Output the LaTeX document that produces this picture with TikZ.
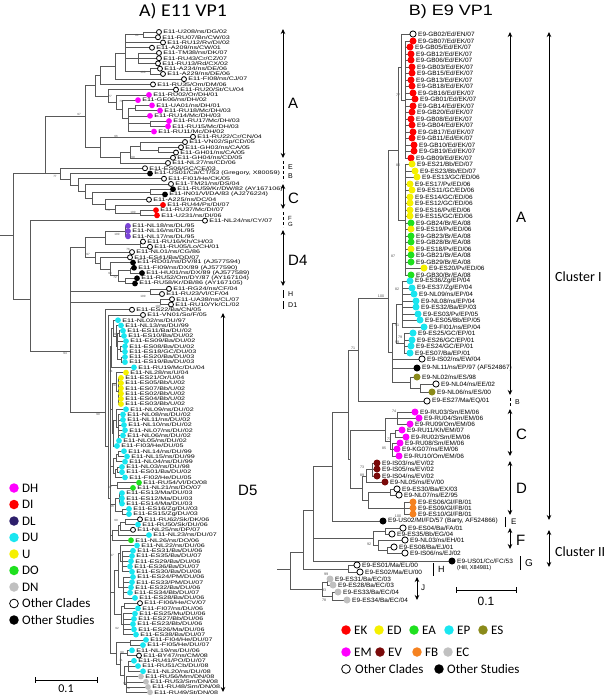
\documentclass[tikz,border=0pt]{standalone}
\usepackage{fontspec}
\setmainfont{Liberation Sans}
\newfontfamily\calfont{Carlito}
\usetikzlibrary{arrows.meta}

\definecolor{cDH}{HTML}{FF00FF}
\definecolor{cDI}{HTML}{FF0000}
\definecolor{cDL}{HTML}{7B45D6}
\definecolor{cDLkey}{HTML}{2D1F6B}
\definecolor{cDU}{HTML}{1AE6F0}
\definecolor{cU}{HTML}{F5F000}
\definecolor{cDO}{HTML}{1FE01F}
\definecolor{cDN}{HTML}{C0C0C0}
\definecolor{cES}{HTML}{8A8A1A}
\definecolor{cEV}{HTML}{7A0A0A}
\definecolor{cFB}{HTML}{F58220}

% row height of the E11 tree
\newcommand{\ly}[1]{32+5.24*(#1-1)}
\def\dsz{5.8pt}

% E11 tips: row/parent x/tip x/class/label
\def\leavesL{
1/143/159/oc/{E11-U208/ns/DG/02},
2/143/158/oc/{E11-RU07/Bn/CW/03},
3/125/163/oc/{E11-RU12/Rv/DI/02},
4/125/152/oc/{E11-A209/ns/CW/01},
5/138/159/oc/{E11-TM38/ns/DK/07},
6/138/159/oc/{E11-RU43/Cr/CZ/07},
7/138/158/oc/{E11-RU13/Rd/CX/02},
8/150/160/oc/{E11-A234/ns/DE/06},
9/150/163/oc/{E11-A229/ns/DE/06},
10/115/184/oc/{E11-FI08/ns/CJ/07},
11/100/153/oc/{E11-RU35/Om/DM/06},
12/108/176/oc/{E11-RU20/St/CU/04},
13/116/149/DH/{E11-RU02/Or/DH/01},
14/122/138/DH/{E11-GE06/ns/DH/02},
15/135/152/DH/{E11-UA01/ns/DH/01},
16/135/160/DH/{E11-RU18/Mc/DH/03},
17/128/150/DH/{E11-RU14/Mc/DH/03},
18/150/169/DH/{E11-RU17/Mc/DH/03},
19/150/168/DH/{E11-RU15/Mc/DH/03},
20/128/154/DH/{E11-RU11/Mc/DH/02},
21/100/193/oc/{E11-RU22/Cr/CN/04},
22/140/185/oc/{E11-VN02/Sp/CD/05},
23/158/181/oc/{E11-GH03/ns/CA/05},
24/158/176/oc/{E11-GH01/ns/CA/05},
25/130/173/oc/{E11-GH04/ns/CD/05},
26/120/168/oc/{E11-NL27/ns/CD/06},
27/60/145/oc/{E11-ES06/GC/CE/03},
28/70/150/os/{E11-US01/Ca/CT/53 (Gregory, X80059)},
29/78/164/oc/{E11-FI01/He/CK/05},
30/85/171/oc/{E11-TM21/ns/DS/04},
31/150/173/os/{E11-RU59/Kr/DW/82 (AY167106)},
32/150/165/os/{E11-IN01/Vl/DA/83 (AJ276224)},
33/105/149/oc/{E11-A225/ns/DC/04},
34/115/163/DI/{E11-RU44/Ps/DI/07},
35/140/156/DI/{E11-RU37/Mc/DI/07},
36/140/157/DI/{E11-U231/ns/DI/06},
37/30/205/oc/{E11-NL24/ns/CY/07},
38/125/128/DL/{E11-NL18/ns/DL/95},
39/125/128/DL/{E11-NL16/ns/DL/95},
40/125/128/DL/{E11-NL17/ns/DL/95},
41/140/143/oc/{E11-RU16/Kh/CH/03},
42/140/150/oc/{E11-RU05/Lo/CH/01},
43/95/132/oc/{E11-NL01/ns/CG/86},
44/100/130/oc/{E11-ES41/Ba/DD/07},
45/110/133/os/{E11-RD01/ns/DV/81 (AJ577594)},
46/130/134/os/{E11-FI09/ns/DX/89 (AJ577590)},
47/130/142/os/{E11-HU01/ns/DX/89 (AJ577589)},
48/125/137/os/{E11-RU52/Om/DY/87 (AY167104)},
49/125/135/os/{E11-RU58/Kr/DB/86 (AY167105)},
50/150/169/oc/{E11-RG24/ns/CF/04},
51/150/162/oc/{E11-RU23/Vl/CF/04},
52/160/172/oc/{E11-UA38/ns/CL/07},
53/160/171/oc/{E11-RU10/Yk/CL/02},
54/105/132/oc/{E11-ES22/Ba/CN/05},
55/108/143/oc/{E11-VN01/So/F/05},
56/113/118/DU/{E11-NL02/ns/DU/97},
57/116/121/DU/{E11-NL13/ns/DU/99},
58/119/123/DU/{E11-ES11/Ba/DU/02},
59/119/124/DU/{E11-ES10/Ba/DU/02},
60/117/126/DU/{E11-ES09/Ba/DU/02},
61/120/125/DU/{E11-ES08/Ba/DU/02},
62/120/125/DU/{E11-ES18/GC/DU/03},
63/121/125/DU/{E11-ES20/Ba/DU/03},
64/121/125/DU/{E11-ES19/Ba/DU/03},
65/111/134/DU/{E11-RU19/Mc/DU/04},
66/116/126/U/{E11-NL28/ns/U/04},
67/118/121/U/{E11-ES21/Or/U/04},
68/118/121/U/{E11-ES05/Bb/U/02},
69/118/121/U/{E11-ES07/Bb/U/02},
70/118/121/U/{E11-ES02/Bb/U/02},
71/118/121/U/{E11-ES04/Bb/U/02},
72/118/121/U/{E11-ES03/Bb/U/02},
73/116/126/DU/{E11-NL09/ns/DU/02},
74/118/123/DU/{E11-NL08/ns/DU/02},
75/118/123/DU/{E11-NL11/ns/DU/02},
76/118/124/DU/{E11-NL10/ns/DU/02},
77/118/125/DU/{E11-NL07/ns/DU/02},
78/118/123/DU/{E11-NL06/ns/DU/02},
79/118/119/DU/{E11-NL05/ns/DU/02},
80/113/117/DU/{E11-FI03/He/DU/05},
81/118/124/DU/{E11-NL14/ns/DU/99},
82/118/127/DU/{E11-NL15/ns/DU/99},
83/116/125/DU/{E11-NL04/ns/DU/99},
84/117/122/DU/{E11-NL03/ns/DU/98},
85/117/122/DU/{E11-ES01/Ba/DU/02},
86/115/125/DU/{E11-FI02/He/DU/05},
87/117/139/DO/{E11-RU54/Vl/DO/08},
88/117/133/DO/{E11-NL21/ns/DO/07},
89/119/122/DU/{E11-ES13/Ma/DU/03},
90/119/122/DU/{E11-ES12/Ma/DU/03},
91/119/122/DU/{E11-ES14/Ma/DU/03},
92/122/129/DU/{E11-ES16/Zg/DU/03},
93/122/129/DU/{E11-ES15/Zg/DU/03},
94/125/140/oc/{E11-RU62/Sk/DK/06},
95/125/138/DU/{E11-RU50/Sk/DU/06},
96/120/133/oc/{E11-NL25/ns/DP/07},
97/118/149/DU/{E11-NL23/ns/DU/07},
98/112/131/DO/{E11-NL26/ns/DO/06},
99/120/137/DU/{E11-NL22/ns/DU/06},
100/122/133/DU/{E11-ES31/Ba/DU/06},
101/122/132/DU/{E11-ES35/Ba/DU/07},
102/122/131/DU/{E11-ES29/Ba/DU/06},
103/122/130/DU/{E11-ES36/Ba/DU/07},
104/122/132/DU/{E11-ES30/Ba/DU/06},
105/123/133/DU/{E11-ES24/PM/DU/06},
106/123/132/DU/{E11-ES33/PM/DU/07},
107/123/131/DU/{E11-ES32/Ba/DU/06},
108/123/130/DU/{E11-ES34/Bb/DU/07},
109/123/135/DU/{E11-ES28/Ba/DU/06},
110/124/140/oc/{E11-FI06/He/CV/07},
111/124/138/DU/{E11-FI07/ns/DU/06},
112/123/135/DU/{E11-ES25/Mu/DU/06},
113/123/134/DU/{E11-ES27/Bb/DU/06},
114/123/133/DU/{E11-ES23/Bb/DU/06},
115/123/134/DU/{E11-ES26/Ma/DU/06},
116/123/136/DU/{E11-ES38/Ba/DU/07},
117/130/146/DU/{E11-FI04/He/DU/07},
118/130/143/DU/{E11-FI05/He/DU/07},
119/127/132/DU/{E11-NL19/ns/DU/06},
120/127/139/oc/{E11-BY47/ns/CM/08},
121/128/134/DU/{E11-RU41/PO/DU/07},
122/128/138/DU/{E11-RU51/Cb/DU/08},
123/128/143/DU/{E11-NL20/ns/DU/08},
124/126/141/DN/{E11-RU56/Mm/DN/08},
125/126/146/DN/{E11-RU53/Sm/DN/08},
126/126/148/DN/{E11-RU48/Sm/DN/08},
127/126/150/DN/{E11-RU49/St/DN/08}}

% E9 tips: y/parent x/tip x/class/label
\def\leavesR{
34/401/413/oc/{E9-GB02/Ed/EN/07},
41/405/413/EK/{E9-GB07/Ed/EK/07},
47/405/410/EK/{E9-GB05/Ed/EK/07},
54/405/411/EK/{E9-GB12/Ed/EK/07},
60/405/411/EK/{E9-GB06/Ed/EK/07},
67/405/412/EK/{E9-GB03/Ed/EK/07},
73/405/412/EK/{E9-GB15/Ed/EK/07},
80/405/411/EK/{E9-GB13/Ed/EK/07},
86/405/412/EK/{E9-GB18/Ed/EK/07},
93/405/413/EK/{E9-GB16/Ed/EK/07},
99/405/415/EK/{E9-GB01/Ed/EK/07},
106/405/413/EK/{E9-GB14/Ed/EK/07},
112/405/412/EK/{E9-GB20/Ed/EK/07},
119/405/411/EK/{E9-GB08/Ed/EK/07},
125/405/412/EK/{E9-GB04/Ed/EK/07},
132/405/413/EK/{E9-GB17/Ed/EK/07},
138/405/412/EK/{E9-GB11/Ed/EK/07},
145/405/414/EK/{E9-GB10/Ed/EK/07},
151/405/414/EK/{E9-GB19/Ed/EK/07},
158/405/411/EK/{E9-GB09/Ed/EK/07},
164/405/412/ED/{E9-ES21/Bb/ED/07},
171/405/415/ED/{E9-ES23/Bb/ED/07},
177/405/417/ED/{E9-ES13/GC/ED/06},
184/405/410/ED/{E9-ES17/Pv/ED/06},
190/405/412/ED/{E9-ES11/GC/ED/06},
197/405/410/ED/{E9-ES14/GC/ED/06},
203/405/410/ED/{E9-ES12/GC/ED/06},
210/405/410/ED/{E9-ES16/Pv/ED/06},
216/405/410/ED/{E9-ES15/GC/ED/06},
223/405/411/EA/{E9-GB24/Br/EA/08},
229/405/411/ED/{E9-ES19/Pv/ED/06},
236/405/411/EA/{E9-GB23/Br/EA/08},
242/405/411/EA/{E9-GB28/Br/EA/08},
249/405/411/ED/{E9-ES18/Pv/ED/06},
255/405/411/EA/{E9-GB21/Br/EA/08},
262/405/411/EA/{E9-GB29/Br/EA/08},
268/405/424/ED/{E9-ES20/Pv/ED/06},
275/405/411/EA/{E9-GB30/Br/EA/08},
281/402/410/EP/{E9-ES36/Zg/EP/04},
288/402/412/EP/{E9-ES37/Zg/EP/04},
294/402/414/EP/{E9-NL09/ns/EP/04},
301/402/416/EP/{E9-NL08/ns/EP/04},
307/402/416/EP/{E9-ES32/Ba/EP/03},
314/402/418/EP/{E9-ES03/Pv/EP/05},
320/402/420/EP/{E9-ES05/Bb/EP/05},
327/402/424/EP/{E9-FI01/ns/EP/04},
333/404/413/EP/{E9-ES25/GC/EP/01},
340/404/412/EP/{E9-ES26/GC/EP/01},
346/404/411/EP/{E9-ES24/GC/EP/01},
353/404/410/EP/{E9-ES07/Ba/EP/01},
359/392/422/oc/{E9-IS02/ns/EW/04},
368/392/417/os/{E9-NL11/ns/EP/97 (AF524867)},
377/410/417/ES/{E9-NL02/ns/ES/98},
384/420/436/oc/{E9-NL04/ns/EE/02},
392/420/432/ES/{E9-NL06/ns/ES/00},
401/358/427/oc/{E9-ES27/Ma/EQ/01},
412/397/415/EM/{E9-RU03/Sm/EM/06},
418/397/419/EM/{E9-RU04/Sm/EM/06},
424/397/410/EM/{E9-RU09/Om/EM/06},
430/395/402/EM/{E9-RU11/Kh/EM/07},
437/395/406/EM/{E9-RU02/Sm/EM/06},
443/392/400/EM/{E9-RU08/Sm/EM/06},
449/392/397/EM/{E9-KG07/ns/EM/06},
456/392/399/EM/{E9-RU10/Om/EM/06},
463/372/377/EV/{E9-IS03/ns/EV/02},
469/372/377/EV/{E9-IS05/ns/EV/02},
476/372/377/EV/{E9-IS04/ns/EV/02},
482/366/385/EV/{E9-NL05/ns/EV/00},
489/390/397/oc/{E9-ES30/Ba/EX/03},
495/390/399/oc/{E9-NL07/ns/EZ/95},
502/404/413/FB/{E9-ES06/Gl/FB/01},
508/404/413/FB/{E9-ES09/Gl/FB/01},
514/404/413/FB/{E9-ES10/Gl/FB/01},
521/332/383/os/{E9-US02/MI/FD/57 (Barty, AF524866)},
528/385/403/oc/{E9-ES04/Ba/FA/01},
534/385/392/oc/{E9-ES35/Bb/EG/04},
540/378/405/oc/{E9-NL03/ns/EH/01},
547/387/394/oc/{E9-ES08/Ba/EJ/01},
553/387/405/oc/{E9-IS06/ns/EJ/02},
561/313/452/os/{E9-US01/Cc/FC/53},
565/348/357/oc/{E9-ES01/Ma/EL/00},
572/348/360/oc/{E9-ES02/Ma/EU/00},
579/327/330/EC/{E9-ES31/Ba/EC/03},
585/327/333/EC/{E9-ES28/Ba/EC/03},
592/332/338/EC/{E9-ES33/Ba/EC/04},
600/332/347/EC/{E9-ES34/Ba/EC/04}}

\begin{document}
\begin{tikzpicture}[x=1pt,y=-1pt,
  br/.style={line width=0.5pt,black!65},
  dt/.style={circle,inner sep=0pt,minimum size=\dsz},
  DH/.style={dt,fill=cDH}, DI/.style={dt,fill=cDI}, DL/.style={dt,fill=cDL},
  DU/.style={dt,fill=cDU}, U/.style={dt,fill=cU}, DO/.style={dt,fill=cDO},
  DN/.style={dt,fill=cDN},
  EK/.style={dt,fill=cDI}, ED/.style={dt,fill=cU}, EA/.style={dt,fill=cDO},
  EP/.style={dt,fill=cDU}, ES/.style={dt,fill=cES}, EM/.style={dt,fill=cDH},
  EV/.style={dt,fill=cEV}, FB/.style={dt,fill=cFB}, EC/.style={dt,fill=cDN},
  oc/.style={dt,draw=black,fill=white,line width=0.8pt,minimum size=\dsz-0.8pt},
  os/.style={dt,fill=black},
  lblL/.style={anchor=west,inner sep=0pt,font=\fontsize{5.1}{5.1}\selectfont},
  lblR/.style={anchor=west,inner sep=0pt,font=\fontsize{6.2}{6.2}\selectfont},
  bs/.style={inner sep=0pt,text=black!70,font=\fontsize{3}{3}\selectfont},
  key/.style={circle,inner sep=0pt,minimum size=9.5pt},
  keytxt/.style={anchor=west,inner sep=0pt,font=\calfont\fontsize{13}{13}\selectfont},
  cl/.style={line width=0.8pt,{Stealth[length=5pt,width=4.5pt]}-{Stealth[length=5pt,width=4.5pt]}},
  dsh/.style={line width=0.8pt,dash pattern=on 3pt off 2pt},
  bigl/.style={anchor=west,inner sep=0pt,font=\fontsize{15}{15}\selectfont},
  smll/.style={anchor=west,inner sep=0pt,font=\fontsize{7}{7}\selectfont}]
\useasboundingbox (0,0) rectangle (608,697);

% titles
\node[anchor=base,inner sep=0pt,font=\calfont\fontsize{18}{18}\selectfont] (tA) at (183,16) {\scalebox{1.1}[1]{A) E11 VP1}};
\node[anchor=base,inner sep=0pt,font=\fontsize{15}{15}\selectfont] (tB) at (451,15) {\scalebox{1.2}[1]{B) E9 VP1}};

%%% A) E11 tree
\foreach \x/\a/\b/\p/\m in {143/1/2/125/1.5, 138/5/7/125/6, 150/8/9/125/8.5,
  125/1.5/8.5/115/5, 115/5/10/100/7.5, 100/7.5/11/95/9.25,
  135/15/16/128/15.5, 150/18/19/128/18.5, 128/15.5/20/122/17.5,
  122/14/17.5/116/15.75, 116/13/15.75/108/14.4, 108/12/14.4/95/13.2,
  95/9.25/13.2/85/11.2, 158/23/24/140/23.5, 140/22/23.5/130/22.75,
  130/22.75/25/120/23.9, 120/23.9/26/100/24.9, 100/21/24.9/85/23,
  85/11.2/23/45/17.1, 140/35/36/115/35.5, 115/34/35.5/105/34.75,
  150/31/32/92/31.5, 105/33/34.75/92/33.9, 92/31.5/33.9/85/32.7,
  85/30/32.7/78/31.35, 78/29/31.35/70/30.2, 70/28/30.2/60/29.1,
  60/27/29.1/45/28, 45/17.1/28/13/28,
  125/38/40/105/39, 140/41/42/105/41.5, 105/39/41.5/85/40.25,
  130/46/47/118/46.5, 125/48/49/118/48.5, 118/46.5/48.5/110/47.5,
  110/45/47.5/100/46.25, 100/44/46.25/95/45.1, 95/43/45.1/85/44,
  85/40.25/44/70/42.1, 150/50/51/70/50.5, 160/52/53/70/52.5,
  70/42.1/73.5/30/62, 30/37/62/13/52, 13/28/52/0/39.7,
  119/58/59/117/58.5, 120/61/62/117/61.5, 121/63/64/117/63.5,
  117/58.5/63.5/116/61, 116/57/61/113/59, 113/56/59/111/57.5,
  111/57.5/65/110/61, 118/67/72/116/69.5, 116/66/69.5/112/68,
  118/74/79/116/76.5, 116/73/76.5/113/75, 113/75/80/112/77.5,
  112/68/77.5/110/73, 118/81/82/116/81.5, 116/81.5/83/113/82.3,
  117/84/85/115/84.5, 115/84.5/86/113/85.3, 113/82.3/85.3/110/83.8,
  117/87/88/110/87.5, 119/89/91/115/90, 122/92/93/115/92.5,
  115/90/92.5/110/91.2, 125/94/95/120/94.5, 120/94.5/96/118/95.2,
  118/95.2/97/112/96, 112/96/98/110/97, 122/100/104/120/102,
  120/99/102/118/100.5, 123/105/109/118/107, 118/100.5/107/114/103.7,
  124/110/111/121/110.5, 123/112/116/121/114, 121/110.5/114/114/112.2,
  114/103.7/112.2/110/108, 130/117/118/116/117.5, 127/119/120/120/119.5,
  128/121/123/124/122, 126/124/127/124/125.5, 124/122/125.5/120/123.7,
  120/119.5/123.7/116/121.6, 116/117.5/121.6/110/119.5,
  110/61/119.5/108/90, 108/55/90/105/80, 105/54/80/70/73.5}
  \draw[br] (\x,{\ly{\a}}) -- (\x,{\ly{\b}}) (\p,{\ly{\m}}) -- (\x,{\ly{\m}});
\foreach \i/\p/\x/\s/\t in \leavesL
  \draw[br] (\p,{\ly{\i}}) -- (\x,{\ly{\i}});
\foreach \i/\p/\x/\s/\t in \leavesL {
  \node[\s] (L\i) at (\x,{\ly{\i}}) {};
  \node[lblL] at ({\x+4.2},{\ly{\i}}) {\scalebox{1.4}[1]{\t}};
}
\foreach \x/\y/\t in {137/35/81, 143/72/100, 79/114/97, 110/96/77, 121/101/70,
  116/136/96, 133/157/99, 55/176/77, 108/210/75, 133/212/100, 117/234/100,
  128/249/76, 88/254/97, 110/273/96, 115/277/72, 143/296/100, 158/306/100,
  65/353/94, 98/414/99, 115/334/81, 111/371/74, 115/385/97, 110/487/97,
  112/506/96, 116/520/99, 112/555/97, 117/628/92, 122/652/99, 121/660/71,
  125/683/91, 128/688/79}
  \node[bs] at (\x,\y) {\t};

% E11 clade marks
\draw[cl] (283,29) -- (283,158);
\node[bigl] at (288,103) {A};
\draw[dsh] (283,161) -- (283,181);
\node[smll] at (288,167) {E};
\node[smll] at (288,176) {B};
\draw[cl] (283,184) -- (283,209);
\node[bigl] at (288,198) {C};
\draw[dsh] (283,212) -- (283,227);
\node[smll,font=\fontsize{6}{6}\selectfont] at (288,218) {F};
\node[smll,font=\fontsize{6}{6}\selectfont] at (288,224) {G};
\draw[cl] (283,230) -- (283,286);
\node[bigl] at (288,260) {D4};
\draw[line width=0.8pt] (283,290) -- (283,298) (283,301) -- (283,309);
\node[smll] at (288,294) {H};
\node[smll] at (288,305) {D1};
\draw[cl] (223,313) -- (223,692);
\node[bigl] at (238,490) {D5};

% E11 key
\foreach \c/\t [count=\n] in {cDH/DH, cDI/DI, cDLkey/DL, cDU/DU, cU/U, cDO/DO, cDN/DN} {
  \node[key,fill=\c] (kL\n) at (14,{488+16.5*(\n-1)}) {};
  \node[keytxt] at (22,{488+16.5*(\n-1)}) {\t};
}
\node[key,draw=black,fill=white,line width=0.8pt,minimum size=8.7pt] (kL8) at (14,603.5) {};
\node[keytxt] at (22,603.5) {Other Clades};
\node[key,fill=black] (kL9) at (14,620) {};
\node[keytxt] at (22,620) {Other Studies};

% E11 scale
\draw[line width=1pt] (35,677) -- (35,683) (35,680) -- (97,680) (97,677) -- (97,683);
\node[inner sep=0pt,font=\calfont\fontsize{12}{12}\selectfont] at (66,688.5) {0.1};

%%% B) E9 tree
\def\dsz{7pt}
\foreach \x/\a/\b/\p/\m in {405/41/158/401/100, 401/34/100/398/67, 405/164/275/398/220,
  398/67/220/388/150, 402/281/327/396/304, 404/333/353/396/343, 396/304/343/392/323,
  420/384/392/410/388, 410/377/388/392/382, 392/323/382/388/352, 388/150/352/358/298,
  358/298/401/348/350, 397/412/424/385/418, 395/430/437/390/433, 392/443/456/390/449,
  390/433/449/385/441, 385/418/441/350/430, 372/463/476/366/469, 366/469/482/362/476,
  390/489/495/368/492, 404/502/514/368/508, 368/492/508/362/500, 362/476/500/350/488,
  350/430/488/348/459, 348/350/459/332/412, 385/528/534/373/531, 387/547/553/378/550,
  378/540/550/373/545, 373/531/545/313/538, 332/412/521/313/466, 313/466/561/303/510,
  348/565/572/303/569, 303/510/569/290/552, 327/579/585/322/582, 332/592/600/322/596,
  322/582/596/290/589, 290/552/589/277/569}
  \draw[br] (\x,\a) -- (\x,\b) (\p,\m) -- (\x,\m);
\foreach \y/\p/\x/\s/\t in \leavesR
  \draw[br] (\p,\y) -- (\x,\y);
\foreach \y/\p/\x/\s/\t [count=\n] in \leavesR {
  \node[\s] (R\n) at (\x,\y) {};
  \node[lblR] at ({\x+5},\y) {\scalebox{1.05}[1]{\t}};
}
\node[lblR,font=\fontsize{5.6}{5.6}\selectfont] at (457,568) {(Hill, X84981)};
\foreach \x/\y/\t in {398/95/77, 398/165/80, 393/256/87, 381/296/100, 397/289/82,
  397/325/91, 400/337/79, 397/342/99, 353/348/71, 394/411/74, 389/439/73, 384/448/85,
  362/467/73, 362/475/89, 398/516/100, 369/544/92, 326/574/99, 324/590/93, 324/600/78}
  \node[bs,font=\fontsize{3.6}{3.6}\selectfont] at (\x,\y) {\t};

% E9 clade marks
\draw[cl] (510,32) -- (510,395);
\node[bigl] at (516,217) {A};
\draw[dsh] (510,398) -- (510,406);
\node[smll] at (515,402) {B};
\draw[cl] (510,409) -- (510,456);
\node[bigl] at (516,434) {C};
\draw[cl] (510,461) -- (510,515);
\node[bigl] at (516,488) {D};
\draw[line width=0.8pt] (505,517) -- (505,527);
\node[smll,font=\fontsize{8}{8}\selectfont] at (511,522) {E};
\draw[cl] (510,528) -- (510,549);
\node[bigl] at (516,540) {F};
\draw[line width=0.8pt] (520,556) -- (520,570);
\node[smll,font=\fontsize{10}{10}\selectfont] at (525,563) {G};
\draw[line width=0.8pt] (433,563) -- (433,576);
\node[smll,font=\fontsize{9}{9}\selectfont] at (438,569) {H};
\draw[cl] (417,577) -- (417,600);
\node[smll,font=\fontsize{8}{8}\selectfont] at (421,588) {J};
\draw[cl] (549,32) -- (549,520);
\draw[cl] (549,530) -- (549,567);
\node[keytxt,font=\calfont\fontsize{14}{14}\selectfont] at (555,277) {Cluster I};
\node[keytxt,font=\calfont\fontsize{14}{14}\selectfont] at (555,552) {Cluster II};

% E9 scale
\draw[line width=1pt] (456,587) -- (456,593) (456,590) -- (516,590) (516,587) -- (516,593);
\node[inner sep=0pt,font=\fontsize{12}{12}\selectfont] at (486,601) {0.1};

% E9 key
\foreach \x/\y/\c/\t [count=\n] in {346/630/cDI/EK, 379/630/cU/ED, 414/630/cDO/EA,
  449/630/cDU/EP, 483/630/cES/ES, 346/652/cDH/EM, 380/652/cEV/EV, 417/652/cFB/FB,
  448/652/cDN/EC} {
  \node[key,fill=\c] (kR\n) at (\x,\y) {};
  \node[keytxt] at ({\x+8},\y) {\t};
}
\node[key,draw=black,fill=white,line width=0.8pt,minimum size=8.7pt] (kR10) at (346,669) {};
\node[keytxt] at (355,669) {Other Clades};
\node[key,fill=black] (kR11) at (439,669) {};
\node[keytxt] at (447,669) {Other Studies};
\end{tikzpicture}
\end{document}
